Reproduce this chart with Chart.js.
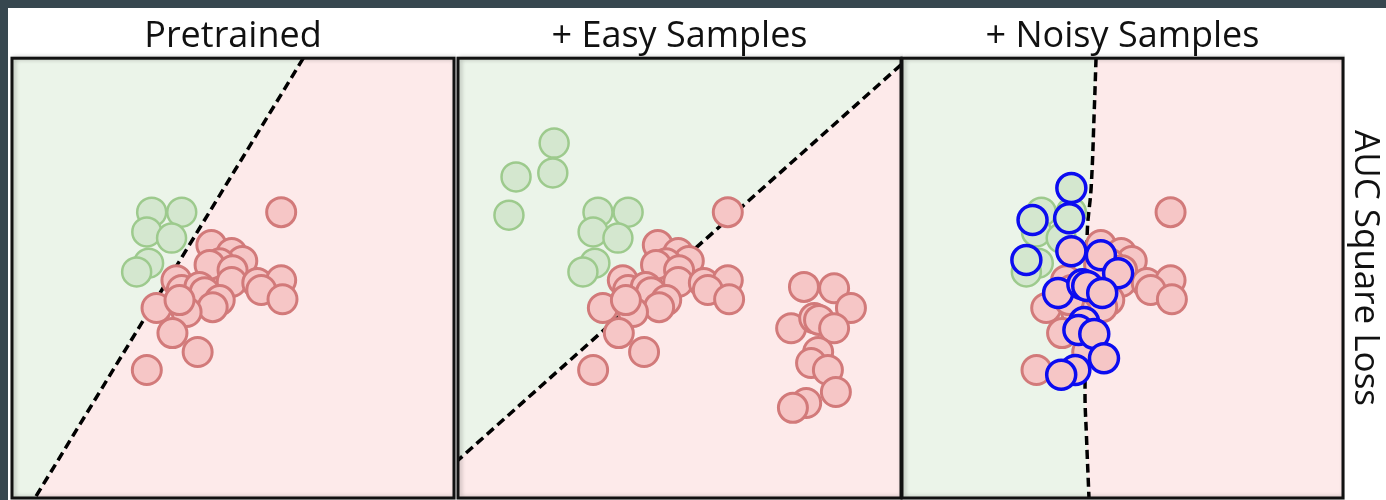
<!DOCTYPE html>
<html>
<head>
<meta charset="utf-8">
<script src="https://cdn.jsdelivr.net/npm/chart.js@4.4.1/dist/chart.umd.min.js"></script>
<style>
  html, body { margin: 0; padding: 0; }
  body { width: 1386px; height: 500px; background: #37474f; position: relative; overflow: hidden; }
  #sheet { position: absolute; left: 8px; top: 8px; right: 0; bottom: 0; background: #fff; }
  .panel { position: absolute; top: 0; height: 500px; }
  #sideLabel {
    position: absolute; left: 1350px; top: 128px; width: 36px; height: 280px;
    writing-mode: vertical-rl; font-family: "Open Sans", sans-serif; font-size: 35px;
    line-height: 36px; color: #111; text-align: center;
  }
</style>
</head>
<body>
<div id="sheet"></div>
<div class="panel" style="left:10px;width:446px"><canvas id="chartPretrained"></canvas></div>
<div class="panel" style="left:456px;width:447px"><canvas id="chartEasy"></canvas></div>
<div class="panel" style="left:900px;width:445px"><canvas id="chartNoisy"></canvas></div>
<div id="sideLabel">AUC Square Loss</div>
<script>
// Judul panel
const panelTitles = ["Pretrained", "+ Easy Samples", "+ Noisy Samples"];

// Titik dasar (sama di ketiga panel), koordinat 0-100
const basePositives = [
  [31.6, 65.0], [38.4, 65.0], [30.5, 60.5], [36.1, 59.1], [30.9, 53.4], [28.2, 51.4],
];
const baseNegatives = [
  [60.9, 65.0], [45.1, 57.5], [49.7, 55.7], [52.1, 53.9], [47.0, 53.4], [44.7, 53.0],
  [49.9, 51.8], [49.7, 49.1], [55.5, 48.9], [60.9, 49.5], [56.4, 47.3], [61.2, 45.2],
  [37.2, 49.5], [38.4, 47.3], [42.4, 48.0], [43.6, 46.8], [47.0, 45.0], [45.4, 43.4],
  [32.7, 43.2], [39.5, 42.3], [37.9, 45.0], [36.3, 37.5], [42.0, 33.2], [30.5, 29.1],
];

// Sampel tambahan "Easy"
const easyPositives = [[21.7, 80.7], [13.1, 73.0], [21.4, 73.9], [11.5, 64.3]];
const easyNegatives = [
  [78.1, 48.0], [84.9, 47.7], [88.7, 43.2], [75.2, 38.6], [80.4, 40.9], [81.5, 40.5],
  [84.9, 38.6], [81.3, 33.2], [79.7, 30.7], [83.5, 29.1], [85.3, 24.1], [78.6, 21.6],
  [75.6, 20.5],
];

// Sampel tambahan "Noisy" (garis biru)
const noisyPositives = [[38.4, 70.5], [29.6, 63.2], [37.9, 63.6], [28.2, 54.1]];
const noisyNegatives = [
  [38.4, 56.1], [45.1, 55.2], [49.0, 51.1], [35.4, 46.6], [40.9, 48.6], [42.0, 48.2],
  [45.4, 46.6], [41.3, 40.0], [40.0, 38.2], [43.6, 37.3], [45.8, 31.8], [39.3, 29.1],
  [36.1, 28.0],
];

// Garis batas keputusan tiap panel
const boundaryPretrained = [[65.9, 100], [5.2, 0]];
const boundaryEasy = [[100, 98.5], [0, 8.6]];
const boundaryNoisy = [[44.0, 100], [43.6, 88.2], [42.9, 70.7], [42.0, 60.2], [41.5, 23.9], [41.8, 14.8], [42.4, 0]];

const toXY = (arr) => arr.map((p) => ({ x: p[0], y: p[1] }));

const colors = {
  greenRegion: "#ebf4e9",
  redRegion: "#fdeaea",
  greenFill: "#d4e7cf",
  greenLine: "#9dca8d",
  redFill: "#f6c6c6",
  redLine: "#d27a7a",
  blue: "#0c0cf0",
};

// Bingkai hitam di sekitar area chart
const panelFrame = {
  id: "panelFrame",
  afterDatasetsDraw(chart) {
    const a = chart.chartArea;
    const c = chart.ctx;
    c.save();
    c.shadowColor = "rgba(0,0,0,0.25)";
    c.shadowBlur = 4;
    c.shadowOffsetX = 2;
    c.lineWidth = 3;
    c.strokeStyle = "#111";
    c.strokeRect(a.left, a.top, a.right - a.left, a.bottom - a.top);
    c.restore();
  },
};

function regionDataset(points, color) {
  return {
    data: toXY(points),
    showLine: true,
    fill: "shape",
    backgroundColor: color,
    borderWidth: 0,
    pointRadius: 0,
    tension: 0,
    order: 10,
  };
}

function boundaryDataset(points, smooth) {
  return {
    data: toXY(points),
    showLine: true,
    fill: false,
    borderColor: "#000",
    borderWidth: 3.5,
    borderDash: [9, 5],
    pointRadius: 0,
    tension: smooth ? 0.4 : 0,
    order: 5,
  };
}

function dotDataset(points, fill, line, order, width) {
  return {
    data: toXY(points),
    backgroundColor: fill,
    borderColor: line,
    borderWidth: width || 2.5,
    pointRadius: 14.5,
    order: order,
  };
}

function renderPanel(canvasId, title, boundary, green, red, dots, smooth) {
  const ctx = document.getElementById(canvasId).getContext("2d");
  const datasets = [
    regionDataset(green, colors.greenRegion),
    regionDataset(red, colors.redRegion),
    boundaryDataset(boundary, smooth),
  ].concat(dots);

  new Chart(ctx, {
    type: "scatter",
    data: { datasets: datasets },
    options: {
      responsive: true,
      maintainAspectRatio: false,
      animation: false,
      events: [],
      layout: { autoPadding: false, padding: { left: 2, right: 2, top: 0, bottom: 2 } },
      scales: {
        x: { type: "linear", min: 0, max: 100, display: false },
        y: { type: "linear", min: 0, max: 100, display: false },
      },
      plugins: {
        legend: { display: false },
        tooltip: { enabled: false },
        title: {
          display: true,
          text: title,
          color: "#111",
          font: { family: "'Open Sans', sans-serif", size: 36, weight: "normal", lineHeight: 1.2 },
          padding: { top: 15, bottom: 0 },
        },
      },
    },
    plugins: [panelFrame],
  });
}

// Panel 1: Pretrained
renderPanel(
  "chartPretrained",
  panelTitles[0],
  boundaryPretrained,
  boundaryPretrained.concat([[0, 0], [0, 100]]),
  boundaryPretrained.concat([[100, 0], [100, 100]]),
  [
    dotDataset(baseNegatives, colors.redFill, colors.redLine, 1, 3),
    dotDataset(basePositives, colors.greenFill, colors.greenLine, 2),
  ],
  false
);

// Panel 2: + Easy Samples
renderPanel(
  "chartEasy",
  panelTitles[1],
  boundaryEasy,
  boundaryEasy.concat([[0, 100], [100, 100]]),
  boundaryEasy.concat([[0, 0], [100, 0]]),
  [
    dotDataset(baseNegatives.concat(easyNegatives), colors.redFill, colors.redLine, 1, 3),
    dotDataset(basePositives.concat(easyPositives), colors.greenFill, colors.greenLine, 2),
  ],
  false
);

// Panel 3: + Noisy Samples
renderPanel(
  "chartNoisy",
  panelTitles[2],
  boundaryNoisy,
  boundaryNoisy.concat([[0, 0], [0, 100]]),
  boundaryNoisy.concat([[100, 0], [100, 100]]),
  [
    dotDataset(noisyNegatives, colors.redFill, colors.blue, 0, 3.5),
    dotDataset(noisyPositives, colors.greenFill, colors.blue, 0, 3.5),
    dotDataset(baseNegatives, colors.redFill, colors.redLine, 1, 3),
    dotDataset(basePositives, colors.greenFill, colors.greenLine, 2),
  ],
  true
);
</script>
</body>
</html>
